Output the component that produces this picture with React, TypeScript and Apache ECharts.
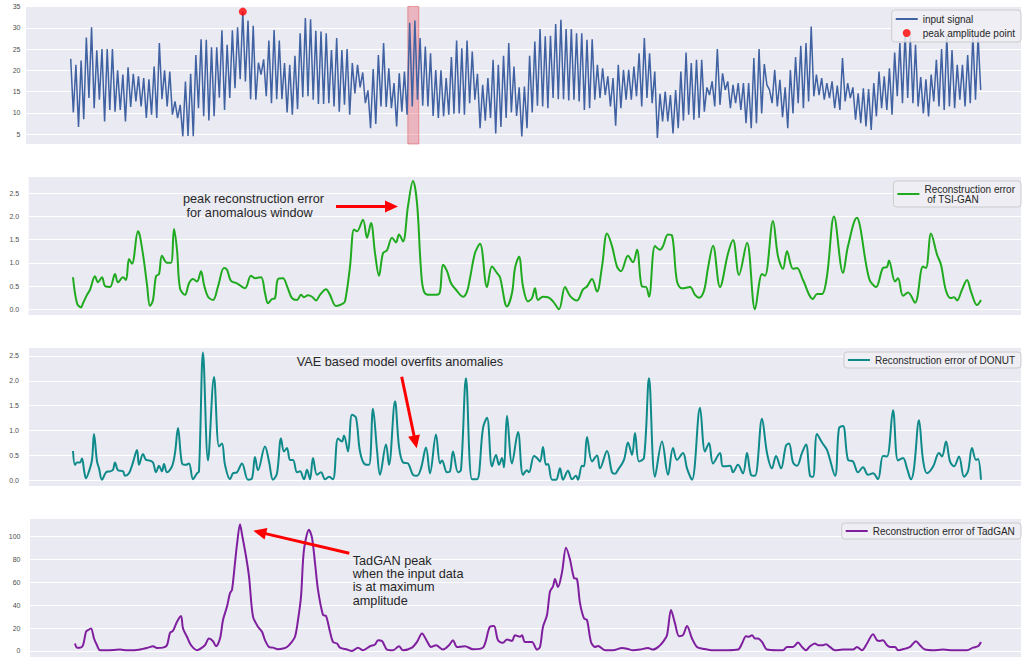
import React, { useEffect, useRef } from "react";
import * as echarts from "echarts";

// ---------- Data ----------
// Input signal: equally spaced samples (alternating peaks / troughs)
const SIGNAL_PART_1 = [
  22.7, 10.1, 21.3, 6.7, 22.3, 8.5, 27.7, 13.5, 30.1, 11.1,
  24.7, 13.1, 25, 8, 25, 10.7, 25, 10.3, 20, 10.7,
  19, 8, 20.7, 11.4, 19.2, 12.7, 18.6, 11.5, 18.2, 8.8,
  17.9, 9.6, 20.9, 8.8, 26.4, 13.2, 20, 11.5, 19.7, 9.6,
  12.7, 8.8, 11.9, 4.5, 17.4, 4.6, 19.2, 4.5, 23.6, 11.1,
  27.3, 9.2, 27.2, 8.2, 25.4, 9.2, 25.4, 13.6, 29.4, 10.7,
  26, 13.5, 29.4, 15.8, 30.1, 17.9, 33.8, 17.4, 31.7, 13.2,
  30.5, 13.1, 21.8, 19, 22.6, 13.9, 27, 12.3, 29.5, 13.2,
  27, 13.2, 21.7, 10.1, 21.3, 9.6, 23.4, 10.9, 28.7, 13.7,
];
const SIGNAL_PART_2 = [
  32.3, 13.9, 32, 13.1, 29.3, 12.1, 29.1, 12.1, 28.7, 12.3,
  24.8, 11.5, 27.6, 10.3, 24.8, 11.9, 25, 9.6, 21.7, 14.6,
  21.3, 16, 19.5, 12.3, 15.3, 6.4, 20.3, 7.4, 23.6, 11.5,
  26.4, 11.4, 20.5, 11.1, 17, 6.8, 19.3, 10.3, 19.7, 9.6,
  31.2, 11.5, 31.7, 13.1, 27.6, 11.7, 25.6, 11.5, 24, 9.3,
  20.1, 8.8, 20, 9.2, 18.2, 9.6, 23.1, 9.8, 27, 9.9,
  25.2, 9.6, 27, 12.3, 24.4, 13.1, 19.2, 6.4, 16.6, 8.2,
  18.2, 8.8, 22.5, 5.2, 21.3, 6.7, 23.4, 8.8, 26.4, 10.1,
  20.9, 9.3, 16, 4.5, 16.2, 6.4, 23.4, 10.1, 26.8, 11.7,
];
const SIGNAL_PART_3 = [
  29.7, 11.5, 28, 11.1, 28.1, 13.5, 30.9, 13.2, 31.9, 13.2,
  29.7, 12.9, 29.7, 13.1, 28.7, 12.7, 28.7, 10.7, 27.2, 11.1,
  27.3, 13.1, 21.3, 13.5, 20.5, 14.2, 18.6, 11.5, 18.2, 7,
  21.3, 11.1, 20.1, 13.1, 20.1, 13.1, 20.9, 13.9, 24, 11.5,
  27.6, 13.5, 24, 12.3, 19.7, 4.1, 14.5, 8, 15, 8,
  14.2, 5.2, 15.4, 6.4, 19.7, 8.2, 24.2, 9.6, 21.7, 8.4,
  22.5, 8.8, 22.5, 10.3, 16, 14.2, 17.4, 11.5, 25, 11.9,
  19.3, 15.4, 17.4, 11.1, 16.6, 12.3, 17, 10.7, 17, 7.6,
];
const SIGNAL_PART_4 = [
  17, 6.4, 22.9, 7.6, 25, 9.9, 21.5, 16.6, 15.4, 12.3,
  20.1, 11.5, 17.8, 9, 16, 6.4, 20.1, 9.9, 23.1, 12.3,
  25.8, 11.1, 26.4, 12.7, 30.3, 13.9, 19, 14.2, 18.2, 13.1,
  17, 13.5, 17.4, 11.1, 16.4, 10.7, 22.9, 12.7, 17, 13.5,
  16, 8.4, 14.6, 7.6, 15.8, 6.8, 15.6, 6, 17, 9.2,
  19.7, 11.1, 18.6, 10.7, 20.5, 9.6, 24.2, 13.9, 26.4, 12.3,
  28.9, 13.5, 28, 12.3, 26, 11.5, 18.4, 9.9, 17.9, 9.2,
  19, 12.7, 22.5, 11.5, 25, 10.7, 28, 11.5, 24.8, 11.1,
  21.3, 13.1, 21.3, 11.5, 23.6, 12.3, 28.3, 13.1, 28, 15.4,
];
// anomalous window, in signal sample indices
const ANOMALY_WINDOW = [129.3, 133.5];

// Reconstruction errors: [time step, error]
const TSIGAN_ERROR = [
  [2,0.69],[6,0.13],[10,0.04],[12,0.13],[16,0.31],[19,0.42],[24,0.71],[27,0.58],[31,0.69],[34,0.5],[39,0.48],[44,0.76],[47,0.58],[52,0.69],[55,0.63],[58,1.08],[61,0.98],[67,1.68],[69,1.57],[73,1.03],[76,0.53],[79,0.07],[82,0.2],[85,0.71],[88,0.76],[91,1.15],[96,1.0],[100,1.0],[103,1.73],[106,1.28],[109,0.45],[114,0.31],[118,0.56],[122,0.65],[126,0.6],[130,0.82],[133,0.53],[137,0.27],[142,0.2],[147,0.49],[153,0.89],[156,0.85],[160,0.61],[166,0.56],[174,0.45],[180,0.72],[184,0.67],[190,0.69],[194,0.35],[197,0.13],[201,0.22],[204,0.24],[207,0.65],[212,0.67],[216,0.5],[221,0.24],[226,0.2],[230,0.31],[233,0.26],[237,0.3],[241,0.27],[245,0.19],[249,0.31],[255,0.43],[259,0.31],[265,0.07],[271,0.11],[274,0.17],[279,0.92],[283,1.72],[286,1.68],[292,1.93],[296,1.54],[300,1.86],[304,1.21],[308,0.72],[312,1.21],[316,1.27],[321,1.54],[325,1.44],[328,1.61],[332,1.46],[337,2.22],[342,2.76],[346,2.29],[350,0.85],[353,0.38],[359,0.31],[366,0.31],[369,0.38],[372,0.96],[376,0.82],[380,0.56],[385,0.42],[392,0.27],[396,0.38],[399,0.67],[404,1.21],[409,1.41],[416,0.48],[421,0.92],[426,0.78],[429,0.69],[436,0.06],[441,0.35],[444,0.89],[448,1.13],[452,0.49],[457,0.17],[461,0.24],[464,0.45],[467,0.2],[472,0.27],[477,0.26],[482,0.17],[488,0.0],[494,0.48],[499,0.29],[506,0.19],[512,0.43],[516,0.49],[521,0.65],[526,0.38],[531,0.92],[536,1.63],[541,1.36],[546,0.92],[550,0.82],[557,1.15],[562,1.01],[566,1.28],[571,0.49],[575,0.48],[578,0.27],[584,1.36],[589,1.28],[592,1.36],[597,1.61],[601,1.59],[606,0.6],[611,0.45],[619,0.48],[624,0.31],[628,0.25],[633,0.4],[637,0.89],[642,1.37],[649,0.48],[657,1.2],[662,1.49],[668,0.74],[676,1.43],[684,0.0],[691,0.76],[694,0.72],[702,1.9],[707,1.14],[712,0.87],[716,1.25],[722,0.87],[726,0.89],[732,0.63],[742,0.22],[746,0.33],[751,0.33],[756,0.72],[763,2.0],[772,0.78],[777,1.36],[786,1.97],[789,1.79],[798,0.67],[805,0.48],[812,0.89],[816,0.91],[818,1.05],[824,0.6],[827,0.67],[832,0.29],[837,0.36],[844,0.14],[852,0.92],[855,0.89],[860,1.63],[866,1.18],[870,0.96],[875,0.4],[880,0.24],[883,0.26],[886,0.19],[891,0.42],[896,0.63],[900,0.38],[906,0.09],[910,0.2],
];
const DONUT_ERROR = [
  [2,0.59],[4,0.31],[6,0.36],[9,0.36],[11,0.44],[13,0.21],[15,0.04],[18,0.18],[21,0.41],[23,0.93],[26,0.38],[28,0.24],[31,0.01],[35,0.16],[39,0.18],[42,0.21],[44,0.36],[47,0.2],[52,0.18],[54,0.09],[58,0.14],[62,0.36],[66,0.61],[68,0.31],[72,0.53],[75,0.41],[78,0.4],[82,0.36],[85,0.16],[88,0.29],[91,0.18],[93,0.33],[96,0.16],[101,0.28],[104,0.55],[107,1.05],[111,0.34],[115,0.31],[118,0.34],[122,0.02],[126,0.14],[128,0.18],[132,2.57],[137,0.4],[143,2.08],[148,0.68],[151,0.74],[154,0.31],[159,0.02],[162,0.14],[166,0.16],[171,0.34],[177,0.01],[181,0.04],[184,0.47],[187,0.2],[194,0.68],[198,0.38],[202,0.01],[206,0.14],[210,0.84],[213,0.58],[216,0.65],[219,0.41],[222,0.41],[226,0.16],[229,0.18],[233,0.02],[236,0.21],[239,0.02],[242,0.45],[246,0.11],[250,0.16],[254,0.02],[258,0.07],[262,0.02],[267,0.84],[271,0.78],[273,0.9],[277,0.58],[281,1.32],[285,1.26],[289,0.58],[294,0.32],[298,0.31],[302,1.44],[306,0.61],[309,0.11],[315,0.72],[318,0.31],[324,1.59],[328,0.68],[332,0.36],[337,0.34],[342,0.11],[346,0.09],[350,0.24],[355,0.66],[359,0.14],[365,0.92],[369,0.34],[371,0.4],[376,0.16],[379,0.18],[382,0.58],[387,0.16],[390,0.21],[395,2.05],[401,0.02],[406,0.02],[412,1.05],[416,1.26],[421,0.28],[425,0.51],[428,0.31],[431,0.45],[433,0.26],[436,1.3],[441,0.34],[447,0.97],[452,0.11],[456,0.2],[458,0.16],[463,0.49],[466,0.45],[469,0.38],[472,0.67],[475,0.31],[477,0.33],[481,0.01],[485,0.01],[489,0.24],[492,0.01],[497,0.19],[501,0.02],[505,0.09],[507,0.01],[511,0.29],[513,0.28],[516,0.87],[521,0.38],[526,0.5],[529,0.24],[536,0.59],[541,0.16],[544,0.13],[547,0.21],[553,0.41],[557,0.76],[561,0.51],[564,0.95],[568,0.38],[573,0.45],[578,2.05],[584,0.07],[591,0.78],[597,0.11],[602,0.65],[606,0.41],[612,0.55],[616,0.24],[621,0.01],[629,1.46],[634,0.58],[638,0.75],[642,0.34],[649,0.55],[652,0.28],[659,0.29],[662,0.16],[667,0.31],[672,0.14],[676,0.55],[680,0.11],[684,0.09],[691,1.24],[696,0.55],[701,0.24],[705,0.49],[710,0.24],[715,0.7],[718,0.74],[722,0.36],[726,0.29],[731,0.55],[735,0.72],[739,0.09],[742,0.07],[746,0.93],[751,0.76],[756,0.61],[764,0.09],[768,1.05],[772,1.09],[777,0.41],[782,0.38],[787,0.16],[792,0.26],[797,0.11],[802,0.14],[807,0.02],[812,0.49],[816,0.48],[822,1.41],[827,0.4],[832,0.45],[836,0.24],[840,0.02],[843,0.24],[848,1.21],[852,0.41],[856,0.14],[862,0.27],[868,0.55],[871,0.48],[875,0.78],[879,0.38],[883,0.28],[888,0.48],[893,0.07],[897,0.18],[901,0.65],[905,0.41],[907,0.43],[910,0.01],
];
const TADGAN_ERROR = [
  [4,6.5],[6,2.9],[9,2.9],[12,5],[15,16.8],[17,18.2],[20,19.7],[23,10.9],[26,5],[29,0.6],[36,0.6],[49,1.2],[56,0.6],[62,0.6],[72,1.8],[77,2.9],[82,4.1],[86,2.6],[92,2.9],[96,5],[99,15.9],[102,17.6],[106,25.6],[110,30.6],[112,19.7],[116,12.4],[119,6.5],[122,2.9],[126,0.6],[131,2.9],[134,5],[138,10.9],[142,8.5],[145,4.1],[149,10.9],[152,27.1],[156,38.8],[159,50.6],[161,53.5],[164,77.1],[166,93.2],[169,111],[171,102.1],[175,82.9],[178,65.3],[182,30],[187,21.2],[191,16.8],[194,9.4],[198,3.5],[202,2.9],[207,1.5],[212,2.1],[216,3.5],[220,7.1],[224,12.4],[227,27.1],[230,47.6],[233,88.8],[238,106],[241,99.1],[244,77.1],[247,53.5],[252,31.5],[255,30.6],[259,16.8],[262,7.9],[266,6.5],[269,2.9],[276,1.2],[281,0],[287,2.9],[292,0.6],[299,4.1],[304,5.6],[307,9.4],[311,8.8],[316,1.2],[322,0.6],[328,4.1],[332,0.6],[341,2.9],[346,7.9],[351,15.3],[356,8.5],[360,3.5],[365,5],[372,1.2],[378,5],[382,9.4],[386,3.5],[394,4.1],[402,1.5],[412,2.9],[419,21.2],[423,21.8],[427,9.4],[432,7.1],[436,10],[441,8.8],[444,13.8],[449,12.4],[451,13.8],[454,7.9],[461,7.9],[466,1.2],[469,3.5],[472,21.2],[476,31.5],[479,52],[482,56.5],[484,62.9],[487,55.9],[491,68.8],[495,90.3],[499,80],[503,63.8],[506,63],[509,41.8],[513,28.5],[516,27.1],[520,7.9],[524,3.5],[527,4.4],[534,0.6],[542,0.6],[551,2.6],[556,2],[562,0.6],[569,1.2],[577,2.6],[582,1.2],[588,4.1],[592,7.9],[596,13.8],[600,35.9],[604,24.1],[608,12.9],[612,13.8],[616,21.8],[621,10.9],[626,3.5],[632,2],[642,0.6],[656,0.6],[667,1.2],[671,6.5],[675,12.9],[678,12.4],[681,13.8],[684,10.9],[687,10.9],[691,7.9],[696,1.2],[706,0.6],[712,0.6],[716,3.5],[722,3.5],[727,7.4],[731,3.5],[735,0.6],[739,4.1],[744,6.5],[747,5],[752,5],[755,5.9],[759,3.5],[764,0.6],[772,1.2],[782,1.2],[786,3.5],[791,0.6],[796,6.5],[802,14.7],[806,9.4],[809,8.8],[812,9.4],[816,5],[819,3.5],[824,3.5],[827,0.6],[834,2],[839,3.5],[845,8.5],[849,5],[854,1.2],[862,0.6],[872,1.2],[882,0.6],[896,0.6],[902,2.9],[907,4.1],[910,7.9],
];

const NAMES = {
  signal: "input signal",
  peak: "peak amplitude point",
  tsigan: "Reconstruction error\n of TSI-GAN",
  donut: "Reconstruction error of DONUT",
  tadgan: "Reconstruction error of TadGAN",
};

const FONT = "'Liberation Sans', Arial, Helvetica, sans-serif";
const BG = "#EAEAF2";
const LINE_ICON = "path://M0,0 L22,0 L22,2 L0,2 Z";

export default function App() {
  const ref = useRef<HTMLDivElement>(null);

  useEffect(() => {
    if (!ref.current) return;
    const chart = echarts.init(ref.current, null, { renderer: "svg" });

    const signal = [...SIGNAL_PART_1, ...SIGNAL_PART_2, ...SIGNAL_PART_3, ...SIGNAL_PART_4];
    const signalData = signal.map((v, i) => [i, v]);
    let peakIdx = 0;
    signal.forEach((v, i) => {
      if (v > signal[peakIdx]) peakIdx = i;
    });

    // layout: data span in pixels (signal from x=70.7 to 980.7)
    const n = signal.length - 1;
    const pxPerSample = 910 / n;
    const sigMin = -(70.7 - 26) / pxPerSample;
    const sigMax = n + (1021 - 980.7) / pxPerSample;

    const grids = [
      { left: 26, top: 6.5, width: 995, height: 137.5 },
      { left: 28.7, top: 176, width: 992.3, height: 139.3 },
      { left: 29, top: 347.3, width: 992, height: 138.7 },
      { left: 30, top: 518.3, width: 991, height: 138.7 },
    ].map((g) => ({
      ...g,
      show: true,
      backgroundColor: BG,
      borderWidth: 0,
      containLabel: false,
      outerBoundsMode: "none",
    }));

    const xAxis = [
      { gridIndex: 0, type: "value", min: sigMin, max: sigMax, show: false },
      { gridIndex: 1, type: "value", min: 28.7 - 71, max: 950, show: false },
      { gridIndex: 2, type: "value", min: 29 - 71, max: 950, show: false },
      { gridIndex: 3, type: "value", min: 30 - 71, max: 950, show: false },
    ];

    const yBase = (gridIndex: number, min: number, max: number, splitNumber: number, margin: number, fmt?: (v: number) => string) => ({
      gridIndex,
      type: "value",
      min,
      max,
      splitNumber,
      axisLine: { show: false },
      axisTick: { show: false },
      splitLine: { show: true, lineStyle: { color: "#ffffff", width: 1 } },
      axisLabel: {
        show: true,
        fontSize: 7,
        color: "#4d4d4d",
        fontFamily: FONT,
        margin,
        showMinLabel: false,
        showMaxLabel: gridIndex === 0,
        formatter: fmt,
      },
    });

    const yAxis = [
      yBase(0, 2.7, 35, 7, 5.5),
      yBase(1, -0.13, 2.87, 6, 9.5, (v: number) => v.toFixed(1)),
      yBase(2, -0.115, 2.675, 6, 10, (v: number) => v.toFixed(1)),
      yBase(3, -5.3, 116.1, 6, 9.5),
    ];

    const legendCommon = {
      orient: "vertical",
      right: 2,
      itemWidth: 22,
      itemHeight: 8,
      itemGap: 4,
      textStyle: { fontSize: 10, color: "#262626", fontFamily: FONT },
      backgroundColor: "rgba(238,238,244,0.85)",
      borderColor: "#cccccc",
      borderWidth: 1,
      borderRadius: 3,
      selectedMode: false,
    };

    const legend = [
      {
        ...legendCommon,
        top: 10,
        padding: [4, 6, 4, 4],
        data: [
          { name: NAMES.signal, icon: LINE_ICON },
          { name: NAMES.peak, icon: "circle" },
        ],
      },
      { ...legendCommon, top: 181, padding: [3, 6, 3, 4], data: [{ name: NAMES.tsigan, icon: LINE_ICON }] },
      { ...legendCommon, top: 352, padding: [3, 6, 3, 4], data: [{ name: NAMES.donut, icon: LINE_ICON }] },
      { ...legendCommon, top: 523, padding: [3, 6, 3, 4], data: [{ name: NAMES.tadgan, icon: LINE_ICON }] },
    ];

    const SIGNAL_COLOR = "#4062a2";
    const series = [
      {
        type: "line",
        name: NAMES.signal,
        xAxisIndex: 0,
        yAxisIndex: 0,
        data: signalData,
        symbol: "none",
        lineStyle: { color: SIGNAL_COLOR, width: 1.5 },
        itemStyle: { color: SIGNAL_COLOR },
        markArea: {
          silent: true,
          itemStyle: { color: "rgba(235,60,70,0.3)", borderColor: "rgba(220,60,70,0.45)", borderWidth: 1 },
          data: [[{ xAxis: ANOMALY_WINDOW[0] }, { xAxis: ANOMALY_WINDOW[1] }]],
        },
        z: 2,
      },
      {
        type: "scatter",
        name: NAMES.peak,
        xAxisIndex: 0,
        yAxisIndex: 0,
        data: [[peakIdx, signal[peakIdx]]],
        symbolSize: 8,
        itemStyle: { color: "#ff0000" },
        z: 5,
      },
      {
        type: "line",
        name: NAMES.tsigan,
        xAxisIndex: 1,
        yAxisIndex: 1,
        data: TSIGAN_ERROR,
        symbol: "none",
        smooth: 0.35,
        lineStyle: { color: "#1faa1f", width: 2 },
        itemStyle: { color: "#1faa1f" },
      },
      {
        type: "line",
        name: NAMES.donut,
        xAxisIndex: 2,
        yAxisIndex: 2,
        data: DONUT_ERROR,
        symbol: "none",
        smooth: 0.35,
        lineStyle: { color: "#0f8a8a", width: 2 },
        itemStyle: { color: "#0f8a8a" },
      },
      {
        type: "line",
        name: NAMES.tadgan,
        xAxisIndex: 3,
        yAxisIndex: 3,
        data: TADGAN_ERROR,
        symbol: "none",
        smooth: 0.3,
        lineStyle: { color: "#7f1f9f", width: 2 },
        itemStyle: { color: "#7f1f9f" },
      },
    ];

    const red = "#ff0000";
    const textStyle = (text: string, lineHeight: number) => ({
      text,
      font: `12.7px ${FONT}`,
      fill: "#262626",
      lineHeight,
    });

    const graphic = [
      // annotation 1
      { type: "text", x: 183, y: 192, style: textStyle("peak reconstruction error\n for anomalous window", 14), z: 10 },
      { type: "line", shape: { x1: 336, y1: 206.5, x2: 387, y2: 206.5 }, style: { stroke: red, lineWidth: 3 }, z: 10 },
      { type: "polygon", shape: { points: [[398, 206.5], [385, 200.5], [385, 212.5]] }, style: { fill: red }, z: 10 },
      // annotation 2
      { type: "text", x: 296.7, y: 355, style: textStyle("VAE based model overfits anomalies", 14), z: 10 },
      { type: "line", shape: { x1: 401.7, y1: 376.7, x2: 414.3, y2: 437 }, style: { stroke: red, lineWidth: 3 }, z: 10 },
      { type: "polygon", shape: { points: [[416.7, 448.3], [419.9, 434.4], [408.1, 436.8]] }, style: { fill: red }, z: 10 },
      // annotation 3
      { type: "text", x: 352.7, y: 554, style: textStyle("TadGAN peak\nwhen the input data\nis at maximum\namplitude", 13.3), z: 10 },
      { type: "line", shape: { x1: 349.3, y1: 553.3, x2: 265.5, y2: 533.6 }, style: { stroke: red, lineWidth: 3 }, z: 10 },
      { type: "polygon", shape: { points: [[253.3, 530.7], [267.4, 527.9], [264.6, 539.5]] }, style: { fill: red }, z: 10 },
    ];

    chart.setOption({
      animation: false,
      backgroundColor: "#ffffff",
      grid: grids,
      xAxis,
      yAxis,
      legend,
      series,
      graphic,
    } as any);

    return () => chart.dispose();
  }, []);

  return (
    <div
      ref={ref}
      style={{ position: "absolute", left: 0, top: 0, width: 1023, height: 658 }}
    />
  );
}
